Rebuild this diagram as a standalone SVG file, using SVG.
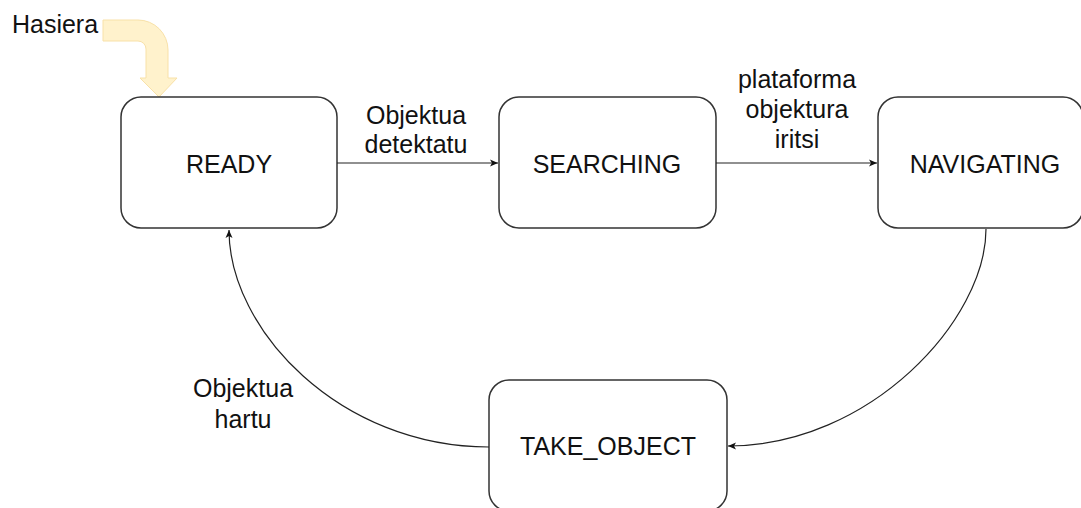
<svg xmlns="http://www.w3.org/2000/svg" width="1081" height="508" viewBox="0 0 1081 508">
  <style>
    .state rect { fill: #ffffff; stroke: #333333; stroke-width: 1.5; }
    .state text, .label { font-family: "Liberation Sans", Arial, sans-serif; font-size: 25px; fill: #111111; text-anchor: middle; }
    .edge { fill: none; stroke: #222222; stroke-width: 1.2; marker-end: url(#head); }
  </style>
  <defs>
    <marker id="head" markerUnits="userSpaceOnUse" markerWidth="10" markerHeight="8" refX="8" refY="4" orient="auto">
      <path d="M0,0.5 L8,4 L0,7.5 L2,4 Z" fill="#111111"/>
    </marker>
  </defs>

  <rect width="1081" height="508" fill="#ffffff"/>

  <!-- initial-state pointer -->
  <g id="start">
    <text class="label" x="55" y="33">Hasiera</text>
    <path d="M103,20 L138,20 A30,30 0 0 1 168,50 L168,78 L177,78 L159,97 L140,78 L146,78 L146,49 A8,8 0 0 0 138,41 L103,41 Z" fill="#fff2cc" stroke="#f8e1a8" stroke-width="1"/>
  </g>

  <g id="ready" class="state">
    <rect x="121" y="97" width="216" height="131" rx="20"/>
    <text x="229" y="173">READY</text>
  </g>

  <g id="searching" class="state">
    <rect x="499" y="97" width="217" height="131" rx="20"/>
    <text x="607" y="173">SEARCHING</text>
  </g>

  <g id="navigating" class="state">
    <rect x="878" y="97" width="205" height="131" rx="20"/>
    <text x="985" y="173">NAVIGATING</text>
  </g>

  <g id="take_object" class="state">
    <rect x="489" y="380" width="238" height="131" rx="20"/>
    <text x="608" y="455">TAKE_OBJECT</text>
  </g>

  <g id="connectors">
    <path class="edge" d="M337,163 L498,163"/>
    <path class="edge" d="M716,163 L877,163"/>
    <path class="edge" d="M986,229 C986,320 870,446 728,446"/>
    <path class="edge" d="M489,447 C340,447 229,330 229,230"/>
    <text class="label" x="416" y="124">Objektua</text>
    <text class="label" x="416" y="153">detektatu</text>
    <text class="label" x="797" y="88">plataforma</text>
    <text class="label" x="797" y="118">objektura</text>
    <text class="label" x="797" y="148">iritsi</text>
    <text class="label" x="243" y="397">Objektua</text>
    <text class="label" x="243" y="428">hartu</text>
  </g>
</svg>
